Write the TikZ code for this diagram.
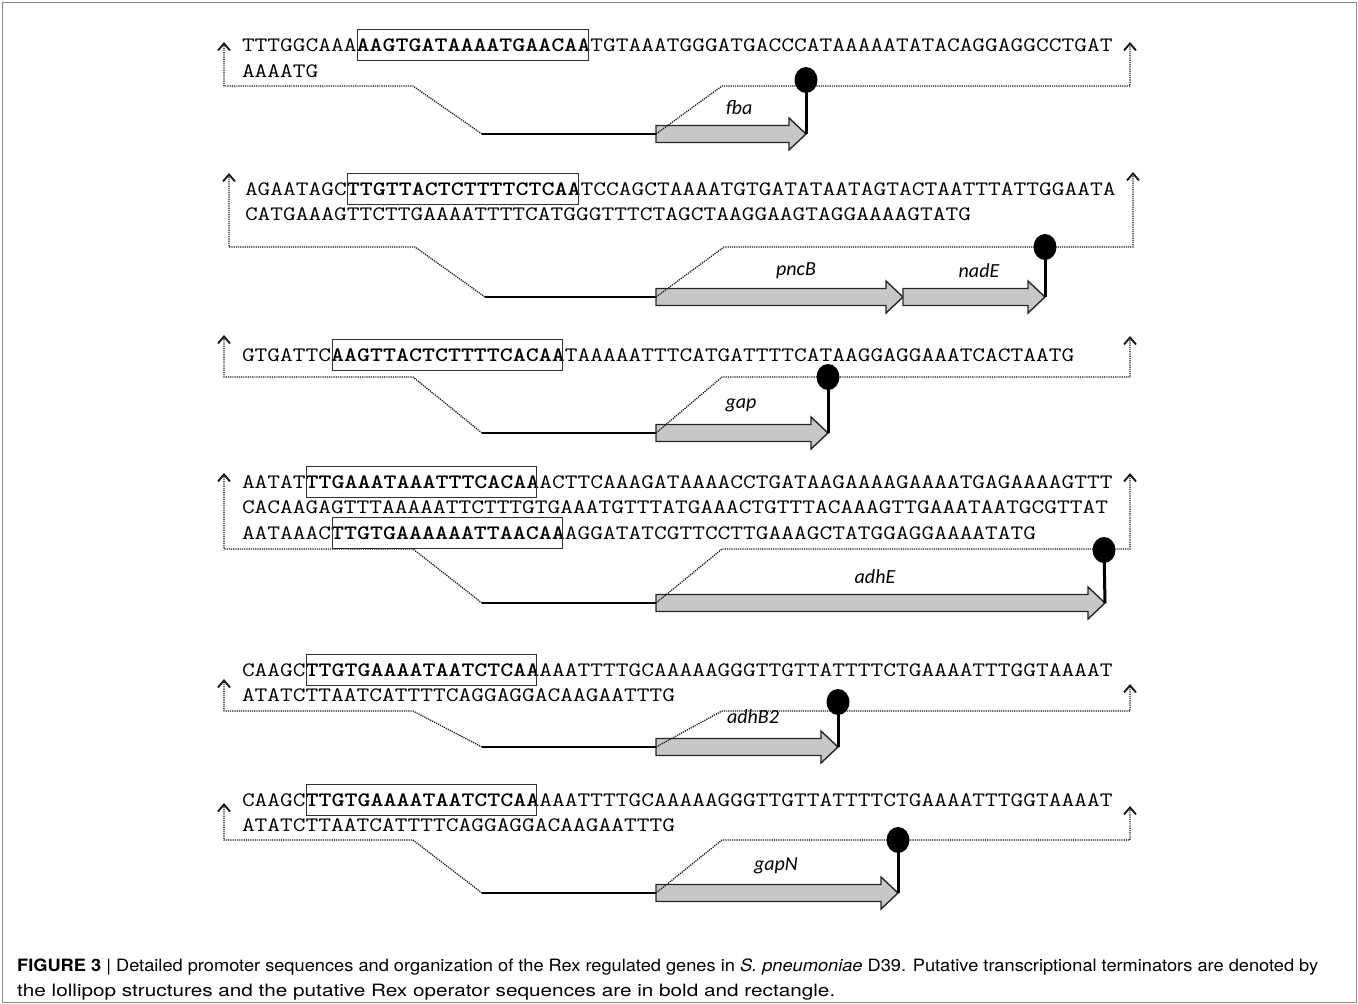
\documentclass[tikz,border=0pt]{standalone}
\usepackage{fontspec}
\usepackage{graphicx}
\usetikzlibrary{arrows.meta,shapes.geometric}
\newfontfamily\genefont{Carlito}
\newfontfamily\capfont{TeX Gyre Heros}
\newcommand\sq[1]{\scalebox{1.2065}[1]{\ttfamily\fontsize{20.5}{24}\selectfont #1}}
\newcommand\gene[3]{\draw[genestyle] (#1,#3-8.5) -- (#2-17,#3-8.5) -- (#2-17,#3-16) -- (#2,#3) -- (#2-17,#3+16) -- (#2-17,#3+8.5) -- (#1,#3+8.5) -- cycle;}
\tikzset{
  seq/.style={anchor=base west, inner sep=0pt, outer sep=0pt},
  opbox/.style={draw=black!80, line width=0.9pt, inner sep=0pt, minimum height=31pt, minimum width=230.4pt, anchor=west},
  dotline/.style={draw=black!90, line width=1.3pt, dash pattern=on 1.2pt off 1.0pt},
  chev/.style={-{Straight Barb[length=7pt,width=12pt,line width=1.9pt]}},
  solidline/.style={draw=black, line width=1.4pt},
  genestyle/.style={draw=black!85, fill=black!22, line width=1.4pt, line join=miter},
  lolli/.style={ellipse, fill=black, minimum width=23pt, minimum height=26pt, inner sep=0pt},
  stem/.style={line width=3pt},
  genelab/.style={font=\genefont\itshape\fontsize{20}{23}\selectfont, inner sep=0pt},
  captext/.style={anchor=base west, inner sep=0pt, font=\capfont\fontsize{17}{20}\selectfont}
}
\begin{document}
\begin{tikzpicture}[x=1pt,y=-1pt]
\useasboundingbox (0,0) rectangle (1358,1004);
\draw[black!45, line width=1pt] (2,2) rectangle (1356,1002);

% ---------- Panel 1: fba
\node[seq] (s1a) at (242,51) {\sq{TTTGGCAAA\textbf{AAGTGATAAAATGAACAA}TGTAAATGGGATGACCCATAAAAATATACAGGAGGCCTGAT}};
\node[seq] (s1b) at (242,77) {\sq{AAAATG}};
\node[opbox] (o1) at (357.2,44.5) {};
\coordinate (a1) at (224,42); \coordinate (b1) at (224,86); \coordinate (c1) at (413,86);
\coordinate (d1) at (482,134); \coordinate (g1) at (656,134); \coordinate (t1) at (806,134);
\coordinate (e1) at (722,86); \coordinate (f1) at (1130,86); \coordinate (h1) at (1130,42);
\gene{656}{806}{134}
\draw[dotline,chev] (d1) -- (c1) -- (b1) -- (a1);
\draw[solidline] (d1) -- (g1);
\draw[dotline,chev] (g1) -- (e1) -- (f1) -- (h1);
\node[lolli] (l1) at (806,80) {};
\draw[stem] (t1) -- (l1.center);
\node[genelab] (n1) at (739,108) {fba};

% ---------- Panel 2: pncB nadE
\node[seq] (s2a) at (245,195) {\sq{AGAATAGC\textbf{TTGTTACTCTTTTCTCAA}TCCAGCTAAAATGTGATATAATAGTACTAATTTATTGGAATA}};
\node[seq] (s2b) at (245,220) {\sq{CATGAAAGTTCTTGAAAATTTTCATGGGTTTCTAGCTAAGGAAGTAGGAAAAGTATG}};
\node[opbox] (o2) at (347.4,189) {};
\coordinate (a2) at (229,173); \coordinate (b2) at (229,247); \coordinate (c2) at (415,247);
\coordinate (d2) at (485,297); \coordinate (g2) at (656,297); \coordinate (t2) at (1045,297);
\coordinate (e2) at (724,247); \coordinate (f2) at (1133,247); \coordinate (h2) at (1133,172);
\gene{656}{903}{297}
\gene{903}{1045}{297}
\draw[dotline,chev] (d2) -- (c2) -- (b2) -- (a2);
\draw[solidline] (d2) -- (g2);
\draw[dotline,chev] (g2) -- (e2) -- (f2) -- (h2);
\node[lolli] (l2) at (1045,247) {};
\draw[stem] (t2) -- (l2.center);
\node[genelab] (n2a) at (796,271) {pncB};
\node[genelab] (n2b) at (979,271) {nadE};

% ---------- Panel 3: gap
\node[seq] (s3a) at (242,361) {\sq{GTGATTC\textbf{AAGTTACTCTTTTCACAA}TAAAAATTTCATGATTTTCATAAGGAGGAAATCACTAATG}};
\node[opbox] (o3) at (331.6,355) {};
\coordinate (a3) at (224,335); \coordinate (b3) at (224,377); \coordinate (c3) at (413,377);
\coordinate (d3) at (482,433); \coordinate (g3) at (656,433); \coordinate (t3) at (828,433);
\coordinate (e3) at (722,377); \coordinate (f3) at (1130,377); \coordinate (h3) at (1130,336);
\gene{656}{828}{433}
\draw[dotline,chev] (d3) -- (c3) -- (b3) -- (a3);
\draw[solidline] (d3) -- (g3);
\draw[dotline,chev] (g3) -- (e3) -- (f3) -- (h3);
\node[lolli] (l3) at (828,377) {};
\draw[stem] (t3) -- (l3.center);
\node[genelab] (n3) at (741,405) {gap};

% ---------- Panel 4: adhE
\node[seq] (s4a) at (242,488) {\sq{AATAT\textbf{TTGAAATAAATTTCACAA}ACTTCAAAGATAAAACCTGATAAGAAAAGAAAATGAGAAAAGTTT}};
\node[seq] (s4b) at (242,513.5) {\sq{CACAAGAGTTTAAAAATTCTTTGTGAAATGTTTATGAAACTGTTTACAAAGTTGAAATAATGCGTTAT}};
\node[seq] (s4c) at (242,539) {\sq{AATAAAC\textbf{TTGTGAAAAAATTAACAA}AGGATATCGTTCCTTGAAAGCTATGGAGGAAAATATG}};
\node[opbox] (o4a) at (306,482) {};
\node[opbox] (o4b) at (331.6,533) {};
\coordinate (a4) at (224,473); \coordinate (b4) at (224,549); \coordinate (c4) at (413,549);
\coordinate (d4) at (482,603); \coordinate (g4) at (656,603); \coordinate (t4) at (1105,603);
\coordinate (e4) at (722,549); \coordinate (f4) at (1130,549); \coordinate (h4) at (1130,473);
\gene{656}{1105}{603}
\draw[dotline,chev] (d4) -- (c4) -- (b4) -- (a4);
\draw[solidline] (d4) -- (g4);
\draw[dotline,chev] (g4) -- (e4) -- (f4) -- (h4);
\node[lolli] (l4) at (1104,550) {};
\draw[stem] (t4) -- (l4.center);
\node[genelab] (n4) at (875,577) {adhE};

% ---------- Panel 5: adhB2
\node[seq] (s5a) at (242,676) {\sq{CAAGC\textbf{TTGTGAAAATAATCTCAA}AAATTTTGCAAAAAGGGTTGTTATTTTCTGAAAATTTGGTAAAAT}};
\node[seq] (s5b) at (242,701) {\sq{ATATCTTAATCATTTTCAGGAGGACAAGAATTTG}};
\node[opbox] (o5) at (306,670) {};
\coordinate (a5) at (224,679); \coordinate (b5) at (224,711); \coordinate (c5) at (413,711);
\coordinate (d5) at (482,747); \coordinate (g5) at (656,747); \coordinate (t5) at (838,747);
\coordinate (e5) at (722,711); \coordinate (f5) at (1130,711); \coordinate (h5) at (1130,684);
\gene{656}{838}{747}
\draw[dotline,chev] (d5) -- (c5) -- (b5) -- (a5);
\draw[solidline] (d5) -- (g5);
\draw[dotline,chev] (g5) -- (e5) -- (f5) -- (h5);
\node[lolli] (l5) at (838,702) {};
\draw[stem] (t5) -- (l5.center);
\node[genelab] (n5) at (753,717) {adhB2};

% ---------- Panel 6: gapN
\node[seq] (s6a) at (242,806) {\sq{CAAGC\textbf{TTGTGAAAATAATCTCAA}AAATTTTGCAAAAAGGGTTGTTATTTTCTGAAAATTTGGTAAAAT}};
\node[seq] (s6b) at (242,831) {\sq{ATATCTTAATCATTTTCAGGAGGACAAGAATTTG}};
\node[opbox] (o6) at (306,800) {};
\coordinate (a6) at (224,803); \coordinate (b6) at (224,840); \coordinate (c6) at (413,840);
\coordinate (d6) at (482,893); \coordinate (g6) at (656,893); \coordinate (t6) at (898,893);
\coordinate (e6) at (722,840); \coordinate (f6) at (1130,840); \coordinate (h6) at (1130,806);
\gene{656}{898}{893}
\draw[dotline,chev] (d6) -- (c6) -- (b6) -- (a6);
\draw[solidline] (d6) -- (g6);
\draw[dotline,chev] (g6) -- (e6) -- (f6) -- (h6);
\node[lolli] (l6) at (898,840) {};
\draw[stem] (t6) -- (l6.center);
\node[genelab] (n6) at (776,866) {gapN};

% ---------- Caption
\node[captext] (cap1) at (17,971) {\resizebox{1301pt}{\height}{\textbf{FIGURE 3} | Detailed promoter sequences and organization of the Rex regulated genes in \textit{S. pneumoniae} D39. Putative transcriptional terminators are denoted by}};
\node[captext] (cap2) at (17,996) {\resizebox{818pt}{\height}{the lollipop structures and the putative Rex operator sequences are in bold and rectangle.}};
\end{tikzpicture}
\end{document}
